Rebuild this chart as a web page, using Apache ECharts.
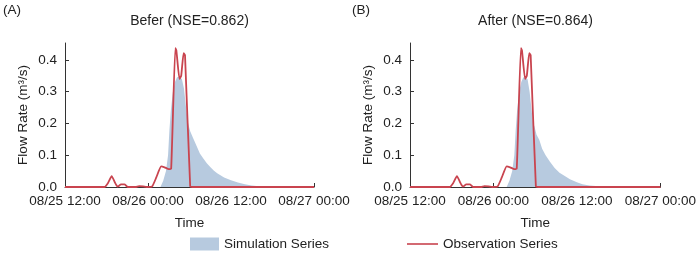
<!DOCTYPE html>
<html>
<head>
<meta charset="utf-8">
<script src="https://cdn.jsdelivr.net/npm/echarts@6/dist/echarts.min.js"></script>
<style>
  html, body { margin: 0; padding: 0; background: #fff; }
  #chart { width: 699px; height: 255px; }
</style>
</head>
<body>
<div id="chart"></div>
<script>
// hours since 08/25 12:00
const tickLabels = ['08/25 12:00', '08/26 00:00', '08/26 12:00', '08/27 00:00']
const yLabels = ['0.0', '0.1', '0.2', '0.3', '0.4']

const obsHours = [0, 5.7, 6.2, 6.75, 7.2, 7.6, 8.1, 8.6, 9.1, 10.2, 10.7, 11.3, 11.8, 12.6, 13.2, 13.9, 14.4, 15.0, 15.35, 15.95, 16.1, 16.55, 16.8, 17.15, 17.35, 18.1, 18.4, 36]
const obsValues = [0, 0, 0.012, 0.034, 0.015, 0.001, 0.008, 0.008, 0, 0, 0.003, 0.002, 0, 0.002, 0.03, 0.065, 0.062, 0.056, 0.058, 0.437, 0.43, 0.34, 0.35, 0.421, 0.415, 0.002, 0, 0]

const simHoursA = [13.8, 14.2, 14.6, 14.9, 15.1, 15.3, 15.6, 15.9, 16.2, 16.5, 16.9, 17.2, 17.5, 17.8, 18.1, 18.5, 18.9, 19.5, 20.0, 20.5, 21.0, 21.5, 22.0, 23.0, 24.0, 25.0, 26.0, 27.0, 28.0, 29.0]
const simValuesA = [0, 0.02, 0.05, 0.1, 0.18, 0.24, 0.3, 0.33, 0.345, 0.347, 0.34, 0.31, 0.25, 0.2, 0.175, 0.155, 0.135, 0.105, 0.09, 0.075, 0.063, 0.052, 0.043, 0.03, 0.021, 0.014, 0.009, 0.005, 0.002, 0]

const simHoursB = [13.9, 14.3, 14.7, 15.0, 15.2, 15.4, 15.7, 16.0, 16.3, 16.5, 16.9, 17.2, 17.5, 17.7, 17.9, 18.2, 18.6, 19.0, 19.5, 20.1, 20.8, 21.5, 22.2, 23.0, 24.0, 24.8, 25.8, 26.7, 28.0, 29.0]
const simValuesB = [0, 0.02, 0.05, 0.1, 0.18, 0.24, 0.3, 0.33, 0.345, 0.347, 0.34, 0.3, 0.24, 0.2, 0.19, 0.164, 0.148, 0.12, 0.1, 0.08, 0.06, 0.045, 0.035, 0.024, 0.015, 0.009, 0.005, 0.003, 0.001, 0]

const font = 'Liberation Sans, Arial, sans-serif'
const axisColor = '#333'
const simColor = '#b7cadf'
const obsColor = '#c9444f'

const pair = (xs, ys) => xs.map((x, i) => [x, ys[i]])

const grids = [
    { left: 65, width: 249, top: 43, bottom: 68 },
    { left: 410, width: 251, top: 43, bottom: 68 },
]

const makeX = (gridIndex) => ({
    type: 'value',
    gridIndex,
    min: 0,
    max: 36,
    interval: 12,
    name: 'Time',
    nameLocation: 'middle',
    nameGap: 29,
    nameTextStyle: { fontSize: 13.5, color: '#222', fontFamily: font },
    axisLine: { show: true, lineStyle: { color: axisColor, width: 1 } },
    axisTick: { show: true, inside: true, length: 4, lineStyle: { color: axisColor } },
    splitLine: { show: false },
    axisLabel: {
        fontSize: 13.5,
        color: '#222',
        fontFamily: font,
        margin: 7,
        formatter: (v) => tickLabels[Math.round(v / 12)] || '',
    },
})

const makeY = (gridIndex) => ({
    type: 'value',
    gridIndex,
    min: 0,
    max: 0.453,
    interval: 0.1,
    name: 'Flow Rate (m³/s)',
    nameLocation: 'middle',
    nameGap: 35,
    nameTextStyle: { fontSize: 13.5, color: '#222', fontFamily: font },
    axisLine: { show: true, lineStyle: { color: axisColor, width: 1 } },
    axisTick: { show: true, inside: true, length: 4, lineStyle: { color: axisColor } },
    splitLine: { show: false },
    axisLabel: {
        fontSize: 13.5,
        color: '#222',
        fontFamily: font,
        margin: 8,
        showMaxLabel: false,
        formatter: (v) => yLabels[Math.round(v * 10)] || '',
    },
})

const simSeries = (idx, data) => ({
    name: 'Simulation Series',
    type: 'line',
    xAxisIndex: idx,
    yAxisIndex: idx,
    data,
    symbol: 'none',
    color: simColor,
    lineStyle: { width: 0, color: simColor },
    areaStyle: { color: simColor, opacity: 1 },
    z: 1,
})

const obsSeries = (idx) => ({
    name: 'Observation Series',
    type: 'line',
    xAxisIndex: idx,
    yAxisIndex: idx,
    data: pair(obsHours, obsValues),
    symbol: 'none',
    smooth: 0.15,
    color: obsColor,
    lineStyle: { width: 1.8, color: obsColor },
    z: 3,
})

const textEl = (text, x, y, align, size) => ({
    type: 'text',
    x,
    y,
    style: {
        text,
        fill: '#222',
        font: size + 'px ' + font,
        fontSize: size,
        fontFamily: font,
        align,
        textAlign: align,
        verticalAlign: 'middle',
        textVerticalAlign: 'middle',
    },
})

const option = {
    animation: false,
    backgroundColor: '#fff',
    grid: grids,
    xAxis: [makeX(0), makeX(1)],
    yAxis: [makeY(0), makeY(1)],
    graphic: [
        textEl('(A)', 3, 10, 'left', 13.5),
        textEl('Befer (NSE=0.862)', 189.5, 21, 'center', 14),
        textEl('(B)', 352, 10, 'left', 13.5),
        textEl('After (NSE=0.864)', 535.5, 21, 'center', 14),
    ],
    legend: [
        {
            left: 190,
            top: 237,
            padding: 0,
            itemWidth: 29,
            itemHeight: 13,
            itemGap: 5,
            data: [{ name: 'Simulation Series', icon: 'rect' }],
            textStyle: { fontSize: 13.5, color: '#222', fontFamily: font, padding: [0, 0, 0, 0] },
        },
        {
            left: 407,
            top: 237,
            padding: 0,
            itemWidth: 31,
            itemHeight: 13,
            data: [{ name: 'Observation Series', icon: 'path://M0,6 L31,6 L31,7.6 L0,7.6 Z' }],
            textStyle: { fontSize: 13.5, color: '#222', fontFamily: font },
        },
    ],
    series: [
        simSeries(0, pair(simHoursA, simValuesA)),
        obsSeries(0),
        simSeries(1, pair(simHoursB, simValuesB)),
        obsSeries(1),
    ],
}

const chart = echarts.init(document.getElementById('chart'))
chart.setOption(option)
</script>
</body>
</html>
